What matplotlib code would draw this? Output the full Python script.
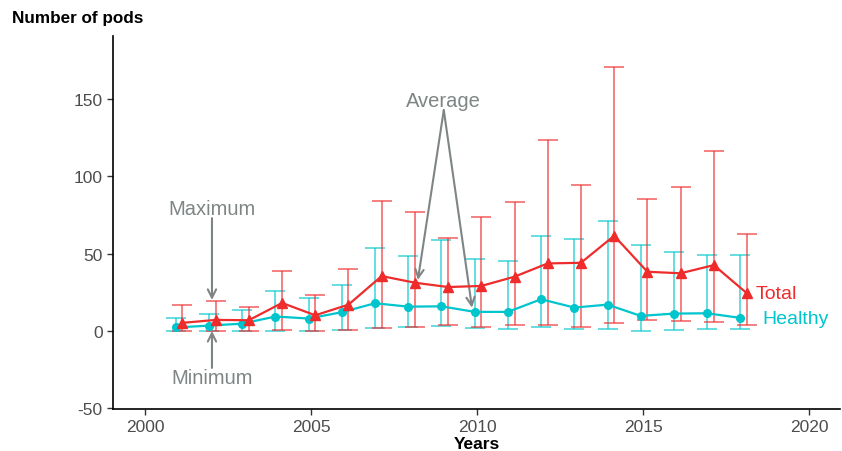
import numpy as np
import matplotlib
matplotlib.use('Agg')
from matplotlib import pyplot as plt

plt.rcParams['font.family'] = ['Liberation Sans', 'DejaVu Sans']
plt.rcParams['axes.unicode_minus'] = False

# data
years = np.arange(2001, 2019)
total_mean = [5.2, 7.1, 6.9, 18.1, 10.1, 17.0, 35.5, 31.2, 28.4, 29.1, 35.1, 43.7, 44.1, 61.6, 38.3, 37.3, 42.6, 24.3]
total_max = [16.8, 19.2, 15.5, 38.8, 23.0, 39.8, 84.2, 77.1, 60.1, 73.9, 83.3, 123.8, 94.3, 171.0, 85.7, 93.0, 116.7, 62.7]
total_min = [0, 0, 0, 0.4, 0, 0.4, 1.7, 2.8, 4.1, 2.6, 4.1, 3.9, 2.4, 5.4, 6.9, 6.2, 5.6, 3.9]
healthy_mean = [2.2, 3.4, 4.7, 9.3, 8.0, 12.1, 17.9, 15.7, 15.9, 12.3, 12.3, 20.5, 15.1, 17.0, 9.7, 11.2, 11.4, 8.4]
healthy_max = [8.2, 10.8, 13.4, 25.6, 21.3, 29.5, 53.8, 48.7, 58.8, 46.5, 45.4, 61.6, 59.6, 71.3, 55.6, 51.2, 49.3, 48.9]
healthy_min = [0, 0, 0, 0, 0, 0.4, 1.9, 2.8, 3.0, 1.9, 0.9, 2.6, 1.3, 1.5, 0.2, 0.6, 1.1, 1.1]

red = '#ee2c2c'
cyan = '#00c5cd'
grey = '#7f8585'

fig = plt.figure(figsize=(8.42, 4.52), dpi=100)
ax = fig.add_axes([113/842, 42/452, 727/842, 373/452])

xh = years - 0.07
xt = years + 0.13

hm = np.array(healthy_mean)
tm = np.array(total_mean)

# error bars (min / max)
ax.errorbar(xh, hm, yerr=[hm - np.array(healthy_min), np.array(healthy_max) - hm],
            fmt='none', ecolor=cyan, alpha=0.6, elinewidth=1.4, capsize=7.5, capthick=1.4, zorder=2)
ax.errorbar(xt, tm, yerr=[tm - np.array(total_min), np.array(total_max) - tm],
            fmt='none', ecolor=red, alpha=0.6, elinewidth=1.4, capsize=7.5, capthick=1.4, zorder=2)

# averages
ax.plot(xh, hm, color=cyan, lw=1.6, marker='o', ms=5.5, zorder=3)
ax.plot(xt, tm, color=red, lw=1.6, marker='^', ms=7, zorder=4)

# series labels
ax.text(2018.4, 24, 'Total', color=red, fontsize=14, va='center', ha='left')
ax.text(2018.6, 8, 'Healthy', color=cyan, fontsize=14, va='center', ha='left')

# annotations
arw = dict(arrowstyle='->,head_length=0.6,head_width=0.3', color=grey, lw=1.5, shrinkA=0, shrinkB=0)
ax.text(2009, 149, 'Average', color=grey, fontsize=14.5, ha='center', va='center')
ax.annotate('', xy=(2008.22, 33), xytext=(2009, 143), arrowprops=arw)
ax.annotate('', xy=(2009.85, 15), xytext=(2009, 143), arrowprops=arw)
ax.text(2002.02, 79.5, 'Maximum', color=grey, fontsize=14.5, ha='center', va='center')
ax.annotate('', xy=(2002.02, 20), xytext=(2002.02, 73), arrowprops=arw)
ax.text(2002.02, -30.5, 'Minimum', color=grey, fontsize=14.5, ha='center', va='center')
ax.annotate('', xy=(2002.02, 0), xytext=(2002.02, -24), arrowprops=arw)

ax.set_xlim(1999.04, 2020.93)
ax.set_ylim(-50.6, 191)
ax.set_xticks([2000, 2005, 2010, 2015, 2020])
ax.set_yticks([-50, 0, 50, 100, 150])
ax.tick_params(labelsize=12.5, labelcolor='#4d4d4d', color='#333333', length=4, width=1)
for s in ['top', 'right']:
    ax.spines[s].set_visible(False)
for s in ['left', 'bottom']:
    ax.spines[s].set_linewidth(1.2)
    ax.spines[s].set_color('black')

ax.set_xlabel('Years', fontsize=12.5, fontweight='bold', labelpad=1)
fig.text(12/842, 1 - 18/452, 'Number of pods', fontsize=12.3, fontweight='bold', va='center', ha='left')

fig.savefig('out.png', dpi=100)
